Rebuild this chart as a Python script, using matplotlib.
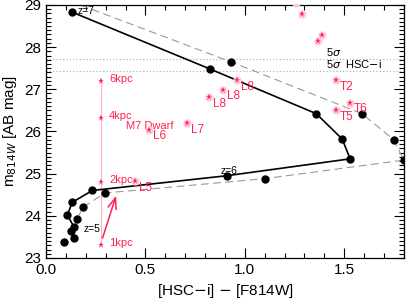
import numpy as np
import matplotlib.pyplot as plt
from matplotlib.ticker import MultipleLocator

plt.rcParams['font.family'] = ['Liberation Sans', 'DejaVu Sans']

# model track 1 (solid) and track 2 (dashed)
solid_x = [0.13, 0.825, 1.36, 1.49, 1.53, 0.91, 0.233, 0.132, 0.107, 0.141, 0.124]
solid_y = [28.83, 27.48, 26.42, 25.82, 25.35, 24.95, 24.60, 24.32, 24.02, 23.73, 23.65]
dash_x = [0.115, 0.93, 1.59, 1.75, 1.80, 1.10, 0.297, 0.188, 0.154, 0.139, 0.09]
dash_y = [29.10, 27.65, 26.42, 25.80, 25.32, 24.88, 24.54, 24.21, 23.92, 23.47, 23.38]

# brown dwarfs
bd_x = [1.26, 1.29, 1.39, 1.37, 1.46, 1.53, 1.46, 0.96, 0.89, 0.82, 0.71, 0.52, 0.45]
bd_y = [29.04, 28.79, 28.29, 28.15, 27.22, 26.68, 26.51, 27.22, 26.99, 26.82, 26.20, 26.04, 24.83]
bd_lab = ['', '', '', '', 'T2', 'T6', 'T5', 'L8', 'L8', 'L8', 'L7', 'L6', 'L5']

# M7 dwarf at several distances
m7_x = 0.277
m7_y = [27.19, 26.31, 24.81, 23.31]
m7_lab = ['6kpc', '4kpc', '2kpc', '1kpc']

lim_f814w = 27.72
lim_hsci = 27.44

red = '#ff2255'
fig = plt.figure(figsize=(4.15, 3.06), dpi=100)
ax = fig.add_axes([0.111, 0.157, 0.862, 0.827])

ax.axhline(lim_f814w, color='#aaaaaa', ls=(0, (1, 2)), lw=0.8)
ax.axhline(lim_hsci, color='#aaaaaa', ls=(0, (1, 2)), lw=0.8)
ax.text(1.41, lim_f814w + 0.06, r'5$\sigma$', fontsize=8)
ax.text(1.41, lim_hsci + 0.06, r'5$\sigma$  HSC$-$i', fontsize=8)

ax.plot(dash_x, dash_y, color='#999999', ls=(0, (7, 4)), lw=0.8, zorder=2)
ax.plot(dash_x, dash_y, 'o', color='k', ms=5, zorder=3)
ax.plot(solid_x, solid_y, '-o', color='k', lw=1.2, ms=5, zorder=3)
ax.text(0.16, 28.78, 'z=7', fontsize=7.5)
ax.text(0.88, 25.0, 'z=6', fontsize=7.5)
ax.text(0.19, 23.62, 'z=5', fontsize=7.5)

ax.plot([m7_x, m7_x], [m7_y[0], m7_y[-1]], color='#ffb0c0', lw=0.8, zorder=1)
ax.plot([m7_x] * len(m7_y), m7_y, '*', color=red, ms=4.5, mew=0)
for y, s in zip(m7_y, m7_lab):
    ax.text(m7_x + 0.04, y + 0.05, s, color=red, fontsize=8, va='center')
ax.text(0.52, 26.12, 'M7 Dwarf', color=red, fontsize=8, ha='center', va='center')

ax.plot(bd_x, bd_y, 'o', color='#ffd0dc', ms=6, mew=0, zorder=4)
ax.plot(bd_x, bd_y, '*', color=red, ms=5, mew=0, zorder=5)
for x, y, s in zip(bd_x, bd_y, bd_lab):
    ax.text(x + 0.02, y - 0.16, s, color=red, fontsize=8.5, va='center', zorder=5)

ax.annotate('', xy=(0.357, 24.54), xytext=(0.28, 23.41),
            arrowprops=dict(arrowstyle='->,head_length=0.8,head_width=0.3', color=red, lw=1.1))

ax.set_xlim(0, 1.8)
ax.set_ylim(23, 29)
ax.xaxis.set_major_locator(MultipleLocator(0.5))
ax.xaxis.set_minor_locator(MultipleLocator(0.1))
ax.yaxis.set_major_locator(MultipleLocator(1))
ax.yaxis.set_minor_locator(MultipleLocator(0.1))
ax.tick_params(which='both', direction='in', top=True, right=True, labelsize=11, width=0.8)
ax.tick_params(which='major', length=7)
ax.tick_params(which='minor', length=3.5)
ax.set_xlabel(r'[HSC$-$i] $-$ [F814W]', fontsize=11)
ax.set_ylabel(r'm$_{814W}$ [AB mag]', fontsize=11)
for s in ax.spines.values():
    s.set_linewidth(0.9)

fig.savefig('out.png', dpi=100)
